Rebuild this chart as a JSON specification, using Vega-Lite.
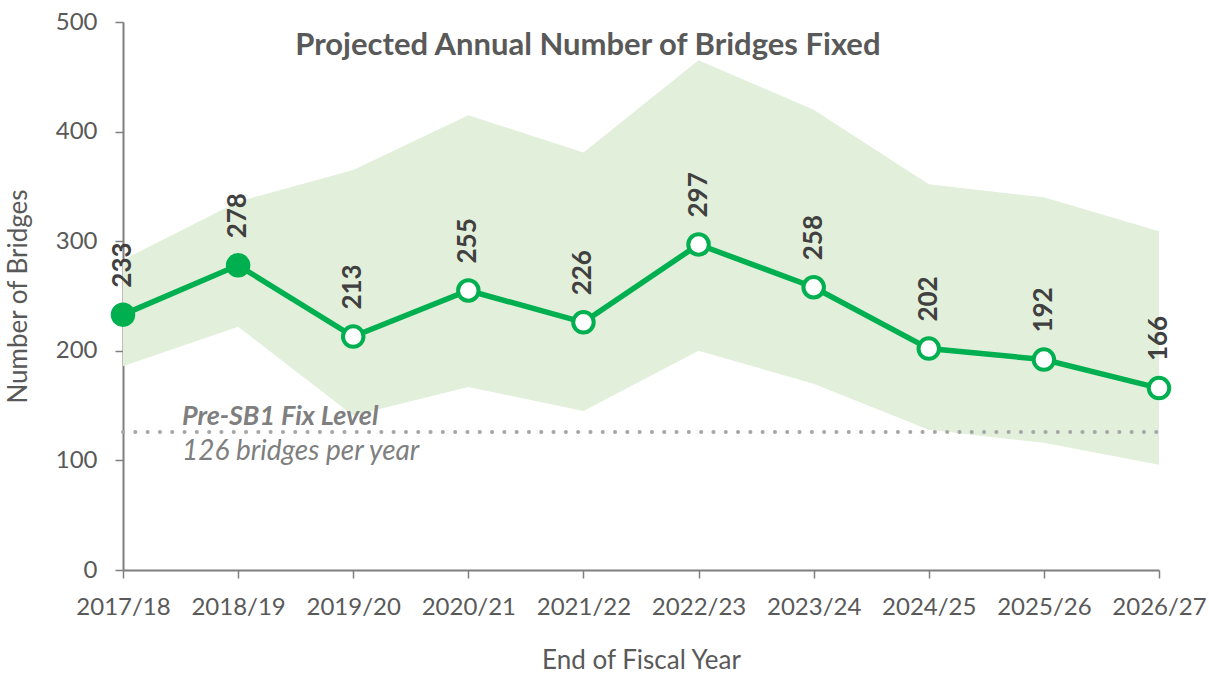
{
  "$schema": "https://vega.github.io/schema/vega-lite/v6.json",
  "width": 1036,
  "height": 548,
  "autosize": {"type": "none"},
  "padding": {"left": 123, "top": 22, "right": 50, "bottom": 103},
  "background": "white",
  "config": {"view": {"stroke": null}, "font": "Lato"},
  "title": {"text": "Projected Annual Number of Bridges Fixed", "anchor": "start", "dx": 290, "dy": 12, "orient": "top", "offset": -40, "fontSize": 31, "fontWeight": "bold", "color": "#595959", "font": "Lato", "baseline": "top"},
  "data": {"values": [
    {"year": "2017/18", "value": 233, "lower": 186, "upper": 283, "status": "actual"},
    {"year": "2018/19", "value": 278, "lower": 222, "upper": 336, "status": "actual"},
    {"year": "2019/20", "value": 213, "lower": 141, "upper": 365, "status": "projected"},
    {"year": "2020/21", "value": 255, "lower": 167, "upper": 415, "status": "projected"},
    {"year": "2021/22", "value": 226, "lower": 145, "upper": 381, "status": "projected"},
    {"year": "2022/23", "value": 297, "lower": 200, "upper": 465, "status": "projected"},
    {"year": "2023/24", "value": 258, "lower": 170, "upper": 420, "status": "projected"},
    {"year": "2024/25", "value": 202, "lower": 128, "upper": 352, "status": "projected"},
    {"year": "2025/26", "value": 192, "lower": 116, "upper": 340, "status": "projected"},
    {"year": "2026/27", "value": 166, "lower": 96, "upper": 309, "status": "projected"}
  ]},
  "encoding": {
    "x": {"field": "year", "type": "ordinal", "scale": {"type": "point", "padding": 0},
      "axis": {"title": "End of Fiscal Year", "labelAngle": 0, "labelFontSize": 24, "labelColor": "#595959", "labelPadding": 17, "titleFontSize": 26, "titleColor": "#595959", "titleFontWeight": "normal", "titlePadding": 28, "domainColor": "#7f7f7f", "domainWidth": 2, "tickColor": "#7f7f7f", "tickWidth": 1.5, "tickSize": 8, "grid": false, "labelFont": "Lato", "titleFont": "Lato"}},
    "y": {"type": "quantitative", "scale": {"domain": [0, 500]},
      "axis": {"title": "Number of Bridges", "values": [0, 100, 200, 300, 400, 500], "labelFontSize": 24, "labelColor": "#595959", "labelPadding": 18, "titleFontSize": 26, "titleColor": "#595959", "titleFontWeight": "normal", "titlePadding": 24, "domainColor": "#7f7f7f", "domainWidth": 2, "tickColor": "#7f7f7f", "tickWidth": 1.5, "tickSize": 8, "grid": false, "labelFont": "Lato", "titleFont": "Lato"}}
  },
  "layer": [
    {"mark": {"type": "area", "color": "#e2efda", "opacity": 1},
      "encoding": {"y": {"field": "lower", "type": "quantitative"}, "y2": {"field": "upper"}}},
    {"data": {"values": [{"level": 126, "start": "2017/18", "end": "2026/27"}]},
      "mark": {"type": "rule", "color": "#a6a6a6", "strokeWidth": 4, "strokeDash": [0.1, 12.2], "strokeCap": "round"},
      "encoding": {"x": {"field": "start", "type": "ordinal"}, "x2": {"field": "end"}, "y": {"field": "level", "type": "quantitative"}}},
    {"data": {"values": [{"level": 126, "start": "2017/18", "line1": "Pre-SB1 Fix Level", "line2": "126 bridges per year"}]},
      "layer": [
        {"mark": {"type": "text", "align": "left", "baseline": "alphabetic", "dy": -7, "dx": 59, "fontSize": 27, "fontWeight": "bold", "fontStyle": "italic", "color": "#7f7f7f", "font": "Lato"},
          "encoding": {"x": {"field": "start", "type": "ordinal"}, "y": {"field": "level", "type": "quantitative"}, "text": {"field": "line1"}}},
        {"mark": {"type": "text", "align": "left", "baseline": "alphabetic", "dy": 28, "dx": 59, "fontSize": 28, "fontStyle": "italic", "color": "#7f7f7f", "font": "Lato"},
          "encoding": {"x": {"field": "start", "type": "ordinal"}, "y": {"field": "level", "type": "quantitative"}, "text": {"field": "line2"}}}
      ]},
    {"mark": {"type": "line", "color": "#00b050", "strokeWidth": 5.5},
      "encoding": {"y": {"field": "value", "type": "quantitative"}}},
    {"mark": {"type": "point", "shape": "circle", "size": 420, "strokeWidth": 4, "color": "#00b050", "opacity": 1},
      "encoding": {"y": {"field": "value", "type": "quantitative"},
        "fill": {"field": "status", "type": "nominal", "scale": {"domain": ["actual", "projected"], "range": ["#00b050", "#ffffff"]}, "legend": null}}},
    {"mark": {"type": "text", "angle": 270, "align": "left", "baseline": "middle", "dx": 27, "fontSize": 26, "fontWeight": "bold", "color": "#404040", "font": "Lato"},
      "encoding": {"y": {"field": "value", "type": "quantitative"}, "text": {"field": "value", "type": "quantitative"}}}
  ]
}
